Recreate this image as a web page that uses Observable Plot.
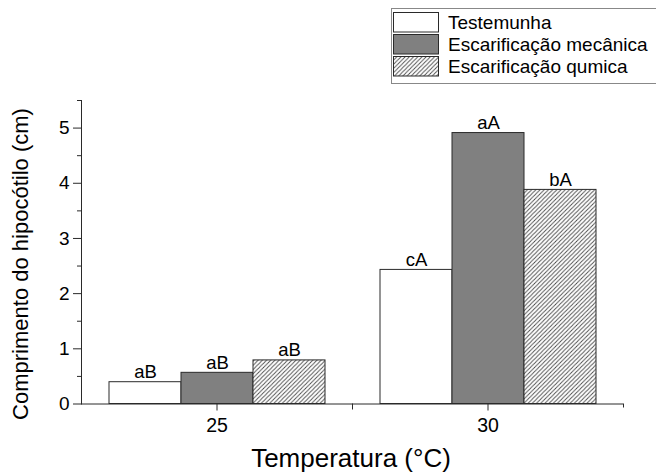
<!DOCTYPE html>
<html>
<head>
<meta charset="utf-8">
<script src="https://cdn.jsdelivr.net/npm/d3@7"></script>
<script src="https://cdn.jsdelivr.net/npm/@observablehq/plot@0.6"></script>
<style>
  html, body { margin: 0; padding: 0; background: #fff; }
  body { font-family: "Liberation Sans", Arial, sans-serif; color: #000; }
  #wrap { position: relative; width: 656px; height: 474px; overflow: hidden; }
  #chart svg { display: block; }
  .ytitle { position: absolute; left: 20.5px; top: 264px; transform: translate(-50%, -50%) rotate(-90deg);
            white-space: nowrap; font-size: 22px; line-height: 1; }
  .xtitle { position: absolute; left: 351px; top: 445px; transform: translateX(-50%);
            white-space: nowrap; font-size: 26px; line-height: 1; }
  #legend { position: absolute; left: 0; top: 0; }
</style>
</head>
<body>
<svg width="0" height="0" style="position:absolute">
  <defs>
    <pattern id="hatch" patternUnits="userSpaceOnUse" width="4.2" height="4.2">
      <rect width="4.2" height="4.2" fill="#fff"></rect>
      <path d="M0,4.2 L4.2,0 M-1,1 L1,-1 M3.2,5.2 L5.2,3.2" stroke="#4a4a4a" stroke-width="0.9"></path>
    </pattern>
  </defs>
</svg>
<div id="wrap">
  <div id="chart"></div>
  <div class="ytitle">Comprimento do hipocótilo (cm)</div>
  <div class="xtitle">Temperatura (°C)</div>
  <svg id="legend" width="656" height="90"></svg>
</div>
<script>
// ---- data ----
const temperaturas = [25, 30];
const tratamentos = ["Testemunha", "Escarificação mecânica", "Escarificação qumica"];
const testemunha = [0.395, 2.43];
const mecanica = [0.565, 4.91];
const quimica = [0.79, 3.88];
const letrasTestemunha = ["aB", "cA"];
const letrasMecanica = ["aB", "aA"];
const letrasQuimica = ["aB", "bA"];
const yTicks = [0, 1, 2, 3, 4, 5];
const yMinorTicks = [0.5, 1.5, 2.5, 3.5, 4.5, 5.5];
const cores = ["#ffffff", "#808080", "url(#hatch)"];

const series = [testemunha, mecanica, quimica];
const letras = [letrasTestemunha, letrasMecanica, letrasQuimica];
const data = temperaturas.flatMap((t, i) =>
  tratamentos.map((tr, j) => ({temp: t, trat: tr, v: series[j][i], lab: letras[j][i]}))
);

const H = 474, mTop = 100, mBottom = 70.5;
const facetH = H - mTop - mBottom;

const chart = Plot.plot({
  width: 656,
  height: H,
  marginLeft: 80,
  marginRight: 33,
  marginTop: mTop,
  marginBottom: mBottom,
  style: {fontFamily: "'Liberation Sans', Arial, sans-serif", fontSize: "18px", color: "#000", background: "transparent"},
  fx: {domain: temperaturas, padding: 0, label: null, axis: null},
  x: {domain: tratamentos, paddingInner: 0, paddingOuter: 0.376, axis: null},
  y: {domain: [0, 5.5], axis: null},
  color: {domain: tratamentos, range: cores},
  marks: [
    Plot.barY(data, {fx: "temp", x: "trat", y: "v", fill: "trat", stroke: "#2a2a2a", strokeWidth: 1}),
    Plot.text(data, {fx: "temp", x: "trat", y: "v", text: "lab", lineAnchor: "bottom", dy: -4, fontSize: 18.5, fill: "#000"}),
    Plot.ruleY([0], {stroke: "#2a2a2a"}),
    Plot.frame({anchor: "left", facetAnchor: "left", stroke: "#2a2a2a"}),
    Plot.frame({anchor: "left", facetAnchor: "right", stroke: "#2a2a2a", insetTop: facetH, insetBottom: -5}),
    Plot.frame({anchor: "right", facetAnchor: "right", stroke: "#2a2a2a", insetTop: facetH, insetBottom: -3}),
    Plot.axisY({ticks: yTicks, tickSize: 8, tickPadding: 4, tickFormat: d3.format("d"), label: null, fontSize: 19, stroke: "#2a2a2a"}),
    Plot.axisY({ticks: yMinorTicks, tickSize: 4, tickFormat: () => "", label: null, stroke: "#2a2a2a"}),
    Plot.axisFx({anchor: "bottom", tickSize: 7, tickPadding: 7, label: null, fontSize: 19.5, stroke: "#2a2a2a"})
  ]
});
document.getElementById("chart").appendChild(chart);

// ---- legend ----
const leg = d3.select("#legend");
leg.append("rect").attr("x", 391.5).attr("y", 8.5).attr("width", 300).attr("height", 75)
  .attr("fill", "#fff").attr("stroke", "#888").attr("stroke-width", 1);
const rowTop = [12.5, 34.5, 56.5];
tratamentos.forEach((t, i) => {
  leg.append("rect").attr("x", 393.5).attr("y", rowTop[i]).attr("width", 45).attr("height", 19.5)
    .attr("fill", cores[i]).attr("stroke", "#2a2a2a").attr("stroke-width", 1);
  leg.append("text").attr("x", 448).attr("y", rowTop[i] + 16)
    .attr("font-family", "'Liberation Sans', Arial, sans-serif").attr("font-size", 19).attr("fill", "#000")
    .text(t);
});
</script>
</body>
</html>
